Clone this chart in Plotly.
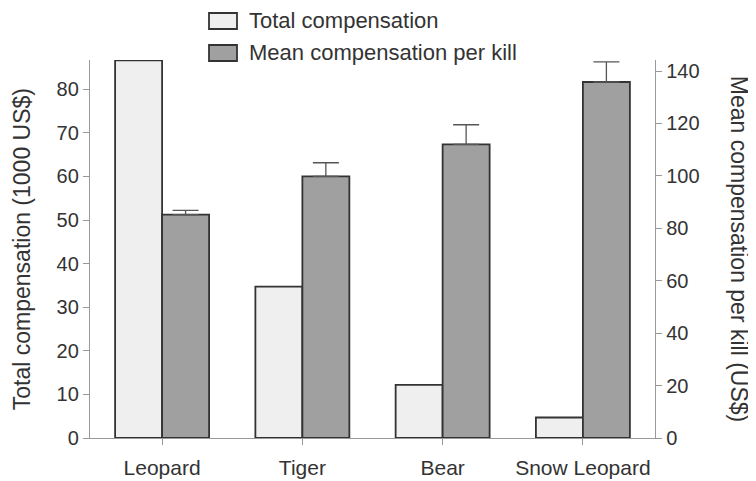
import plotly.graph_objects as go

# data
species = ["Leopard", "Tiger", "Bear", "Snow Leopard"]
total_comp = [86.6, 34.7, 12.2, 4.7]          # 1000 US$
mean_per_kill = [85.2, 99.8, 112.0, 135.8]     # US$
mean_err = [1.6, 5.2, 7.5, 7.7]                # upward error only

font_family = "Liberation Sans, Arial, sans-serif"
ink = "#333333"
axis_grey = "#999999"

fig = go.Figure()

fig.add_trace(go.Bar(
    x=species, y=total_comp, name="Total compensation",
    width=0.335, offset=-0.335,
    marker=dict(color="#efefef", line=dict(color=ink, width=1.8)),
    yaxis="y", showlegend=False,
))

fig.add_trace(go.Bar(
    x=species, y=mean_per_kill, name="Mean compensation per kill",
    width=0.335, offset=0,
    marker=dict(color="#a0a0a0", line=dict(color=ink, width=1.8)),
    error_y=dict(type="data", symmetric=False, array=mean_err,
                 arrayminus=[0] * len(mean_err), color="#555555",
                 thickness=1.3, width=13),
    yaxis="y2", showlegend=False,
))

tick_font = dict(family=font_family, size=20, color=ink)

# page body has an 8px default margin, so the figure is 8px smaller
fig.update_layout(
    width=748, height=473,
    margin=dict(l=82, r=101, t=52, b=43),
    paper_bgcolor="white", plot_bgcolor="white",
    font=dict(family=font_family, color=ink),
    bargap=0.33,
    xaxis=dict(
        type="category", range=[-0.514, 3.514], automargin=False,
        showline=True, linecolor=axis_grey, linewidth=1.3,
        ticks="outside", ticklen=6, tickcolor=axis_grey,
        tickfont=dict(family=font_family, size=21, color=ink),
        ticklabelstandoff=5,
        showgrid=False, zeroline=False,
    ),
    yaxis=dict(
        range=[0, 86.7], dtick=10, automargin=False,
        showline=True, linecolor=axis_grey, linewidth=1.3,
        ticks="outside", ticklen=6, tickcolor=axis_grey,
        tickfont=tick_font, showgrid=False, zeroline=False,
    ),
    yaxis2=dict(
        range=[0, 144.2], dtick=20, overlaying="y", side="right",
        automargin=False,
        showline=True, linecolor=axis_grey, linewidth=1.3,
        ticks="outside", ticklen=6, tickcolor=axis_grey,
        tickfont=tick_font, showgrid=False, zeroline=False,
    ),
)

# axis titles
fig.add_annotation(
    text="Total compensation (1000 US$)", textangle=-90,
    xref="paper", yref="paper", x=-0.12, y=0.5,
    xanchor="center", yanchor="middle", showarrow=False,
    font=dict(family=font_family, size=23, color=ink),
)
fig.add_annotation(
    text="Mean compensation per kill (US$)", textangle=90,
    xref="paper", yref="paper", x=1.149, y=0.5,
    xanchor="center", yanchor="middle", showarrow=False,
    font=dict(family=font_family, size=23, color=ink),
)

# legend drawn by hand to match the wide swatches
legend_items = [("Total compensation", "#efefef"),
                ("Mean compensation per kill", "#a0a0a0")]
for i, (label, color) in enumerate(legend_items):
    yc = 21 + i * 32
    fig.add_shape(type="rect", xref="paper", yref="paper",
                  x0=(209 - 90) / 565, x1=(237 - 90) / 565,
                  y0=(438 - yc - 8) / 378, y1=(438 - yc + 8) / 378,
                  fillcolor=color, line=dict(color=ink, width=1.8))
    fig.add_annotation(text=label, xref="paper", yref="paper",
                       x=(248 - 90) / 565, y=(438 - yc) / 378,
                       xanchor="left", yanchor="middle", showarrow=False,
                       borderpad=0,
                       font=dict(family=font_family, size=22, color=ink))

fig.write_html("out.html")
